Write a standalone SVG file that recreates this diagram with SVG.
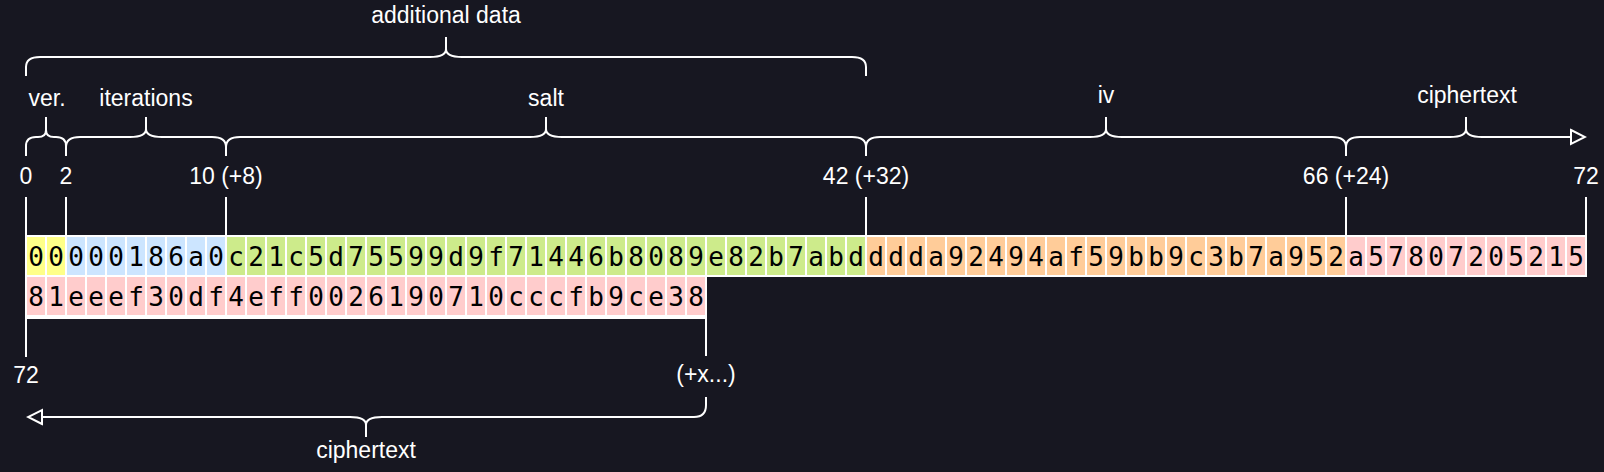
<svg xmlns="http://www.w3.org/2000/svg" width="1604" height="472" viewBox="0 0 1604 472">
<style>
.bg{fill:#171721}
.lbl{font-family:"Liberation Sans",Helvetica,Arial,sans-serif;font-size:23px;fill:#ffffff;text-anchor:middle}
.hex{font-family:"DejaVu Sans Mono","Liberation Mono",monospace;font-size:26px;fill:#000000;text-anchor:middle}
.ln{fill:none;stroke:#ffffff;stroke-width:2}
.ver{fill:#ffff88}.it{fill:#cce5ff}.salt{fill:#cdeb8b}.iv{fill:#ffcc99}.ct{fill:#ffcccc}
</style>
<defs>
<pattern id="grid" patternUnits="userSpaceOnUse" x="26" y="236" width="20" height="40">
<path d="M0,0V40M20,0V40M0,0H20M0,40H20" stroke="#ffffff" stroke-width="2" fill="none"/>
</pattern>
<marker id="open" markerUnits="userSpaceOnUse" viewBox="0 0 18 18" markerWidth="18" markerHeight="18" refX="16" refY="9" orient="auto">
<path d="M2,2 L16,9 L2,16 Z" fill="#171721" stroke="#ffffff" stroke-width="2"/>
</marker>
</defs>
<rect class="bg" x="0" y="0" width="1604" height="472"/>

<g id="cells">
<g id="seg-ver"><rect class="ver" x="26" y="236" width="40" height="40"/>
<text class="hex" x="36 56" y="265.5">00</text></g>
<g id="seg-iterations"><rect class="it" x="66" y="236" width="160" height="40"/>
<text class="hex" x="76 96 116 136 156 176 196 216" y="265.5">000186a0</text></g>
<g id="seg-salt"><rect class="salt" x="226" y="236" width="640" height="40"/>
<text class="hex" x="236 256 276 296 316 336 356 376 396 416 436 456 476 496 516 536 556 576 596 616 636 656 676 696 716 736 756 776 796 816 836 856" y="265.5">c21c5d75599d9f71446b8089e82b7abd</text></g>
<g id="seg-iv"><rect class="iv" x="866" y="236" width="480" height="40"/>
<text class="hex" x="876 896 916 936 956 976 996 1016 1036 1056 1076 1096 1116 1136 1156 1176 1196 1216 1236 1256 1276 1296 1316 1336" y="265.5">ddda92494af59bb9c3b7a952</text></g>
<g id="seg-ciphertext-1"><rect class="ct" x="1346" y="236" width="240" height="40"/>
<text class="hex" x="1356 1376 1396 1416 1436 1456 1476 1496 1516 1536 1556 1576" y="265.5">a57807205215</text></g>
<g id="seg-ciphertext-2"><rect class="ct" x="26" y="276" width="680" height="40"/>
<text class="hex" x="36 56 76 96 116 136 156 176 196 216 236 256 276 296 316 336 356 376 396 416 436 456 476 496 516 536 556 576 596 616 636 656 676 696" y="305.5">81eeef30df4eff0026190710cccfb9ce38</text></g>
<rect x="25" y="235" width="1562" height="42" fill="url(#grid)"/>
<rect x="25" y="275" width="682" height="42" fill="url(#grid)"/>
</g>

<g id="connectors">
<path class="ln" d="M26,197V236M66,197V236M226,197V236M866,197V236M1346,197V236M1586,197V236"/>
<path class="ln" d="M26,318V357M25,318H707M706,318V356"/>
<path class="ln" d="M26,76V67Q26,57 40,57H430Q446,57 446,49V37M446,49Q446,57 462,57H852Q866,57 866,67V76"/>
<path class="ln" d="M26,156V146Q26,137 36,137H38Q46,137 46,130V117M46,130Q46,137 54,137H56Q66,137 66,146V156"/>
<path class="ln" d="M66,156V147Q66,137 80,137H130Q146,137 146,129V117M146,129Q146,137 162,137H212Q226,137 226,147V156"/>
<path class="ln" d="M226,156V147Q226,137 240,137H530Q546,137 546,129V117M546,129Q546,137 562,137H852Q866,137 866,147V156"/>
<path class="ln" d="M866,156V147Q866,137 880,137H1090Q1106,137 1106,129V117M1106,129Q1106,137 1122,137H1332Q1346,137 1346,147V156"/>
<path class="ln" d="M1346,156V147Q1346,137 1360,137H1450Q1466,137 1466,129V117"/>
<path class="ln" d="M1466,129Q1466,137 1482,137H1585" marker-end="url(#open)"/>
<path class="ln" d="M706,397V405Q706,417 694,417H382Q366,417 366,425V437"/>
<path class="ln" d="M366,425Q366,417 350,417H28" marker-end="url(#open)"/>
</g>

<g id="labels">
<text class="lbl" x="446" y="23">additional data</text>
<text class="lbl" x="47" y="106">ver.</text>
<text class="lbl" x="146" y="106">iterations</text>
<text class="lbl" x="546" y="106">salt</text>
<text class="lbl" x="1106" y="103">iv</text>
<text class="lbl" x="1467" y="103">ciphertext</text>
<text class="lbl" x="26" y="184">0</text>
<text class="lbl" x="66" y="184">2</text>
<text class="lbl" x="226" y="184">10 (+8)</text>
<text class="lbl" x="866" y="184">42 (+32)</text>
<text class="lbl" x="1346" y="184">66 (+24)</text>
<text class="lbl" x="1586" y="184">72</text>
<text class="lbl" x="26" y="383">72</text>
<text class="lbl" x="706" y="382">(+x...)</text>
<text class="lbl" x="366" y="458">ciphertext</text>
</g>
</svg>
